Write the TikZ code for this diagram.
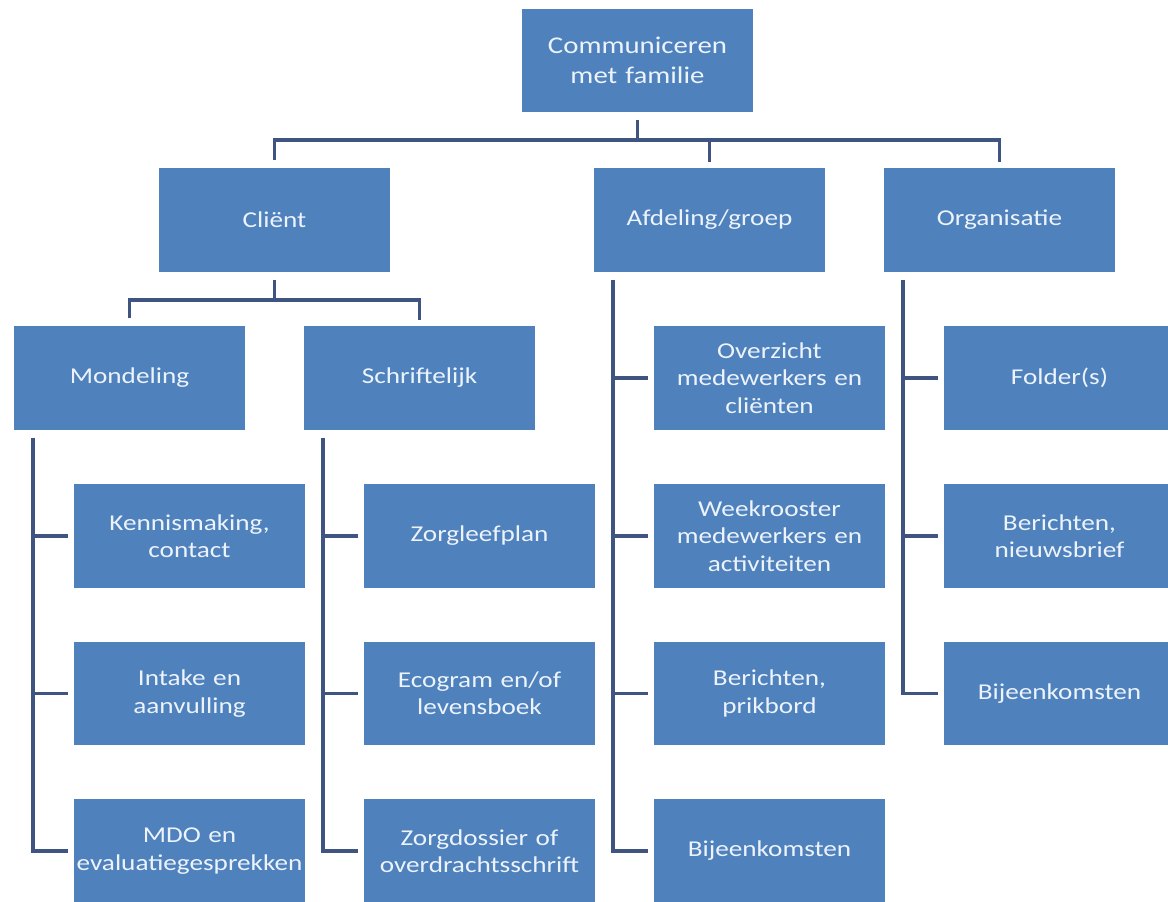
\documentclass[tikz,border=0pt]{standalone}
\usepackage{fontspec}
\setmainfont{Carlito}[FakeStretch=1.2]
\definecolor{boxblue}{RGB}{79,129,189}
\definecolor{linecol}{RGB}{64,84,130}
\definecolor{txt}{RGB}{236,243,251}
\begin{document}
\begin{tikzpicture}[x=0.75pt,y=-0.75pt,
  box/.style={rectangle, fill=boxblue, draw=white, line width=0.8pt,
    minimum width=174.75pt, minimum height=78.75pt, inner sep=0pt,
    text=txt, align=center, text width=170pt,
    font=\fontsize{17}{20.5}\selectfont},
  conn/.style={draw=linecol, line width=2.5pt},
  fromb/.style={shorten <=5pt},
  tob/.style={shorten >=3.5pt}]
\useasboundingbox (0,0) rectangle (1168,901);
\fill[white] (0,0) rectangle (1168,901);
\clip (0,0) rectangle (1168,901);

% nodes
\node[box, font=\fontsize{18}{22.5}\selectfont] (root) at (637.5,60.5) {Communiceren\\met familie};
\node[box] (client) at (274.5,220) {Cliënt};
\node[box] (afd) at (709.5,220) {Afdeling/groep};
\node[box] (org) at (999.5,220) {Organisatie};
\node[box] (mond) at (129.5,378) {Mondeling};
\node[box] (schr) at (419.5,378) {Schriftelijk};

\node[box] (m1) at (189.5,536) {Kennismaking,\\contact};
\node[box] (m2) at (189.5,693.5) {Intake en\\aanvulling};
\node[box] (m3) at (189.5,851) {MDO en\\evaluatiegesprekken};

\node[box] (s1) at (479.5,536) {Zorgleefplan};
\node[box] (s2) at (479.5,693.5) {Ecogram en/of\\levensboek};
\node[box] (s3) at (479.5,851) {Zorgdossier of\\overdrachtsschrift};

\node[box] (a1) at (769.5,378) {Overzicht\\medewerkers en\\cliënten};
\node[box] (a2) at (769.5,536) {Weekrooster\\medewerkers en\\activiteiten};
\node[box] (a3) at (769.5,693.5) {Berichten,\\prikbord};
\node[box] (a4) at (769.5,851) {Bijeenkomsten};

\node[box] (o1) at (1059.5,378) {Folder(s)};
\node[box] (o2) at (1059.5,536) {Berichten,\\nieuwsbrief};
\node[box] (o3) at (1059.5,693.5) {Bijeenkomsten};

% helper coordinates
\coordinate (hb) at (0,140);
\coordinate (hc) at (0,300);
\coordinate (vm) at (33,0);
\coordinate (vs) at (323,0);
\coordinate (va) at (613,0);
\coordinate (vo) at (903,0);

% top level connectors
\draw[conn, fromb] (root.south) -- (root.south |- hb);
\draw[conn, fromb, tob] (client.north) -- (client.north |- hb) -- (org.north |- hb) -- (org.north);
\draw[conn, tob] (afd.north |- hb) -- (afd.north);

% client connectors
\draw[conn, fromb] (client.south) -- (client.south |- hc);
\draw[conn, fromb, tob] (mond.north) -- (mond.north |- hc) -- (schr.north |- hc) -- (schr.north);

% Mondeling
\draw[conn, fromb, tob] (vm |- mond.south) -- (vm |- m3.west) -- (m3.west);
\draw[conn, tob] (vm |- m1.west) -- (m1.west);
\draw[conn, tob] (vm |- m2.west) -- (m2.west);

% Schriftelijk
\draw[conn, fromb, tob] (vs |- schr.south) -- (vs |- s3.west) -- (s3.west);
\draw[conn, tob] (vs |- s1.west) -- (s1.west);
\draw[conn, tob] (vs |- s2.west) -- (s2.west);

% Afdeling
\draw[conn, fromb, tob] (va |- afd.south) -- (va |- a4.west) -- (a4.west);
\draw[conn, tob] (va |- a1.west) -- (a1.west);
\draw[conn, tob] (va |- a2.west) -- (a2.west);
\draw[conn, tob] (va |- a3.west) -- (a3.west);

% Organisatie
\draw[conn, fromb, tob] (vo |- org.south) -- (vo |- o3.west) -- (o3.west);
\draw[conn, tob] (vo |- o1.west) -- (o1.west);
\draw[conn, tob] (vo |- o2.west) -- (o2.west);
\end{tikzpicture}
\end{document}
